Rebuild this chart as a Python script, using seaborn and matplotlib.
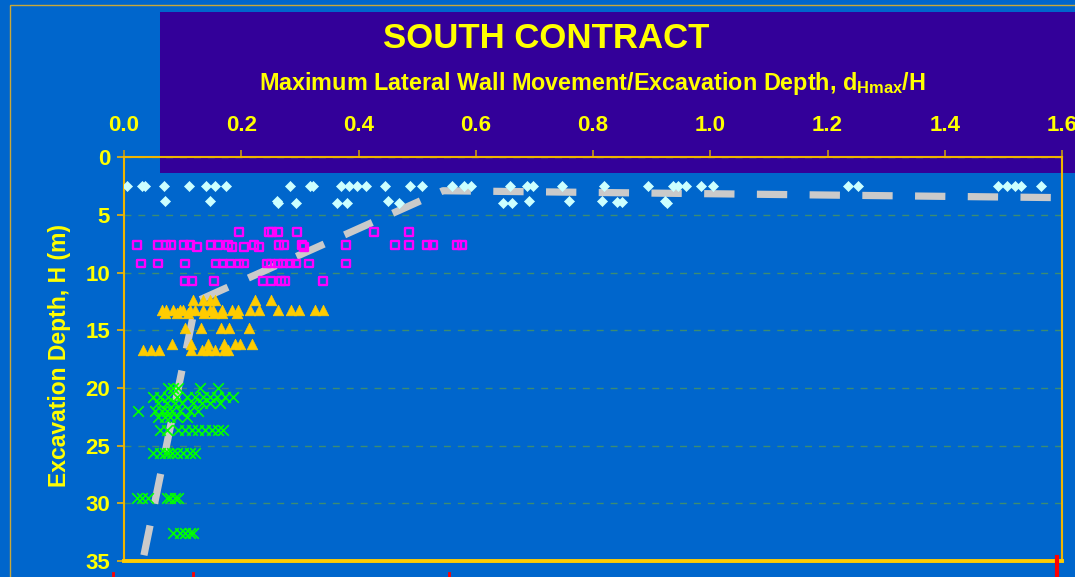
import matplotlib
matplotlib.use("Agg")
import matplotlib.pyplot as plt
import seaborn as sns
from matplotlib.patches import Rectangle
from matplotlib.lines import Line2D

# data (x = dHmax/H, h = excavation depth in m)
diamond_x = [0.005, 0.031, 0.036, 0.068, 0.111, 0.140, 0.155, 0.174, 0.283, 0.317,
             0.322, 0.370, 0.384, 0.397, 0.413, 0.445, 0.488, 0.508, 0.559, 0.580,
             0.592, 0.658, 0.687, 0.698, 0.747, 0.819, 0.894, 0.936, 0.945, 0.959,
             0.984, 1.005, 1.235, 1.252, 1.491, 1.506, 1.520, 1.530, 1.564,
             0.070, 0.147, 0.261, 0.263, 0.293, 0.363, 0.380, 0.450, 0.469, 0.646,
             0.662, 0.691, 0.759, 0.815, 0.841, 0.849, 0.923, 0.926]
diamond_h = [2.5, 2.5, 2.5, 2.5, 2.5, 2.5, 2.5, 2.5, 2.5, 2.5,
             2.5, 2.5, 2.5, 2.5, 2.5, 2.5, 2.5, 2.5, 2.5, 2.5,
             2.5, 2.5, 2.5, 2.5, 2.5, 2.5, 2.5, 2.5, 2.5, 2.5,
             2.5, 2.5, 2.5, 2.5, 2.5, 2.5, 2.5, 2.5, 2.5,
             3.8, 3.8, 3.8, 4.0, 4.0, 4.0, 4.0, 3.8, 4.0, 4.0,
             4.0, 3.8, 3.8, 3.8, 3.9, 3.9, 3.8, 4.0]

square_x = [0.196, 0.247, 0.252, 0.263, 0.295, 0.426, 0.486,
            0.022, 0.058, 0.072, 0.080, 0.102, 0.113, 0.125, 0.148, 0.160, 0.177,
            0.184, 0.205, 0.222, 0.230, 0.264, 0.273, 0.304, 0.307, 0.379, 0.462,
            0.486, 0.517, 0.527, 0.568, 0.577,
            0.029, 0.058, 0.104, 0.157, 0.169, 0.181, 0.196, 0.205, 0.244, 0.251,
            0.263, 0.271, 0.283, 0.293, 0.316, 0.379,
            0.104, 0.116, 0.154, 0.237, 0.251, 0.268, 0.275, 0.339]
square_h = [6.5, 6.5, 6.5, 6.5, 6.5, 6.5, 6.5,
            7.6, 7.6, 7.6, 7.6, 7.6, 7.6, 7.8, 7.6, 7.6, 7.6,
            7.8, 7.8, 7.6, 7.8, 7.6, 7.6, 7.6, 7.8, 7.6, 7.6,
            7.6, 7.6, 7.6, 7.6, 7.6,
            9.2, 9.2, 9.2, 9.2, 9.2, 9.2, 9.2, 9.2, 9.2, 9.2,
            9.2, 9.2, 9.2, 9.2, 9.2, 9.2,
            10.7, 10.7, 10.7, 10.7, 10.7, 10.7, 10.7, 10.7]

triangle_x = [0.118, 0.135, 0.147, 0.155, 0.223, 0.251,
              0.065, 0.072, 0.084, 0.096, 0.101, 0.113, 0.121, 0.135, 0.147, 0.152,
              0.167, 0.184, 0.194, 0.215, 0.230, 0.263, 0.285, 0.299, 0.326, 0.339,
              0.070, 0.090, 0.109, 0.136, 0.154, 0.167, 0.193,
              0.104, 0.131, 0.165, 0.179, 0.213,
              0.082, 0.114, 0.143, 0.171, 0.189, 0.198, 0.218,
              0.032, 0.046, 0.060, 0.114, 0.133, 0.143, 0.155, 0.171, 0.177]
triangle_h = [12.4, 12.4, 12.4, 12.4, 12.4, 12.4,
              13.2, 13.2, 13.2, 13.2, 13.2, 13.2, 13.2, 13.2, 13.2, 13.2,
              13.2, 13.2, 13.2, 13.2, 13.2, 13.2, 13.2, 13.2, 13.2, 13.2,
              13.5, 13.5, 13.5, 13.5, 13.5, 13.5, 13.5,
              14.8, 14.8, 14.8, 14.8, 14.8,
              16.2, 16.2, 16.2, 16.2, 16.2, 16.2, 16.2,
              16.7, 16.7, 16.7, 16.7, 16.7, 16.7, 16.7, 16.7, 16.7]

cross_x = [0.075, 0.084, 0.092, 0.130, 0.160,
           0.049, 0.061, 0.075, 0.090, 0.107, 0.121, 0.135, 0.147, 0.159, 0.172, 0.186,
           0.058, 0.073, 0.087, 0.099, 0.118, 0.133, 0.147, 0.164,
           0.024, 0.053, 0.065, 0.073, 0.082, 0.096, 0.113, 0.126,
           0.058, 0.070, 0.078, 0.090, 0.107,
           0.061, 0.073, 0.092, 0.104, 0.116, 0.126, 0.138, 0.150, 0.160, 0.169,
           0.049, 0.061, 0.070, 0.075, 0.082, 0.090, 0.101, 0.113, 0.121,
           0.022, 0.031, 0.041, 0.073, 0.078, 0.087, 0.092,
           0.084, 0.096, 0.104, 0.113, 0.118]
cross_h = [20.0, 20.0, 20.0, 20.0, 20.0,
           20.8, 20.8, 20.8, 20.8, 20.8, 20.8, 20.8, 20.8, 20.8, 20.8, 20.8,
           21.3, 21.3, 21.3, 21.3, 21.3, 21.3, 21.3, 21.3,
           22.0, 22.0, 22.0, 22.0, 22.0, 22.0, 22.0, 22.0,
           22.5, 22.5, 22.5, 22.5, 22.5,
           23.6, 23.6, 23.6, 23.6, 23.6, 23.6, 23.6, 23.6, 23.6, 23.6,
           25.6, 25.6, 25.6, 25.6, 25.6, 25.6, 25.6, 25.6, 25.6,
           29.5, 29.5, 29.5, 29.5, 29.5, 29.5, 29.5,
           32.6, 32.6, 32.6, 32.6, 32.6]

trend_x = [0.034, 0.123, 0.544, 1.60]
trend_h = [34.5, 12.5, 2.9, 3.5]

x_ticks = [0.0, 0.2, 0.4, 0.6, 0.8, 1.0, 1.2, 1.4, 1.6]
y_ticks = [0, 5, 10, 15, 20, 25, 30, 35]

BLUE = "#0066CC"
PURPLE = "#330099"
YELLOW = "#FFFF00"
GOLD = "#F0B400"

plt.rcParams["font.family"] = ["Liberation Sans", "DejaVu Sans"]
plt.rcParams["font.weight"] = "bold"
plt.rcParams["mathtext.fontset"] = "custom"
plt.rcParams["mathtext.rm"] = "Liberation Sans:bold"
plt.rcParams["mathtext.bf"] = "Liberation Sans:bold"

fig = plt.figure(figsize=(10.75, 5.77), dpi=100, facecolor=BLUE)
W, H = 1075, 577
ax = fig.add_axes([124 / W, 1 - 561 / H, (1062 - 124) / W, (561 - 157.3) / H])
ax.set_facecolor("none")

# purple header panel and thin frame
fig.patches.append(Rectangle((160 / W, 1 - 172.7 / H), (W - 160) / W, (172.7 - 12) / H,
                             transform=fig.transFigure, facecolor=PURPLE,
                             edgecolor="none", zorder=-2))
fig.patches.append(Rectangle((10 / W, -0.1), 1.2, 1 - 5 / H + 0.1,
                             transform=fig.transFigure, facecolor="none",
                             edgecolor="#C8A838", lw=1, zorder=-1))

ax.yaxis.grid(True, color="#3C8C72", linestyle=(0, (5, 5)), lw=1)
ax.xaxis.grid(False)
ax.set_axisbelow(True)

sns.lineplot(x=trend_x, y=trend_h, ax=ax, color="#CACACA", linewidth=5.2,
             linestyle=(0, (4.2, 3.1)), zorder=3)
sns.scatterplot(x=diamond_x, y=diamond_h, ax=ax, marker="D", s=26,
                color="#CCFFFF", edgecolor="#CCFFFF", linewidth=0.5, zorder=4)
sns.scatterplot(x=square_x, y=square_h, ax=ax, marker="s", s=30,
                color="#FF00FF", facecolor="none", edgecolor="#FF00FF",
                linewidth=1.7, zorder=4)
sns.scatterplot(x=triangle_x, y=triangle_h, ax=ax, marker="^", s=58,
                color="#FFCC00", edgecolor="#FFCC00", linewidth=0.5, zorder=4)
sns.scatterplot(x=cross_x, y=cross_h, ax=ax, marker="x", s=58,
                color="#00FF00", linewidth=1.2, zorder=4)

ax.set_xlim(0, 1.6)
ax.set_ylim(35, 0)
ax.xaxis.tick_top()
ax.set_xticks(x_ticks)
ax.set_xticklabels([f"{v:.1f}" for v in x_ticks])
ax.set_yticks(y_ticks)
ax.tick_params(axis="x", colors="#C89A10", labelcolor=YELLOW, length=5,
               width=1.2, pad=10.5, labelsize=16)
ax.tick_params(axis="y", colors=GOLD, labelcolor=YELLOW, length=5,
               width=1.2, pad=5, labelsize=16)
ax.set_xlabel("")
ax.set_ylabel("Excavation Depth, H (m)", color=YELLOW, fontsize=16.5, fontweight="bold")
ax.yaxis.set_label_coords(-0.056, 0.51)

for side in ["left", "top", "right"]:
    ax.spines[side].set_color(GOLD)
    ax.spines[side].set_linewidth(1.5)
ax.spines["bottom"].set_color("#FFCC00")
ax.spines["bottom"].set_linewidth(2.8)

fig.text(546.5 / W, 1 - 47.7 / H, "SOUTH CONTRACT", color=YELLOW, fontsize=25,
         fontweight="bold", ha="center", va="baseline")
fig.text(592 / W, 1 - 90 / H,
         r"Maximum Lateral Wall Movement/Excavation Depth, d$_{\mathbf{Hmax}}$/H",
         color=YELLOW, fontsize=16.8, fontweight="bold", ha="center", va="baseline")

# small red marks along the bottom edge
for px, top in [(113, 573), (193, 573), (449, 573), (1057, 557)]:
    fig.lines.append(Line2D([px / W, px / W], [1 - top / H, 0], transform=fig.transFigure,
                            color="#FF0000", lw=3 if px == 1057 else 2))

fig.savefig("out.png", dpi=100, facecolor=BLUE)
